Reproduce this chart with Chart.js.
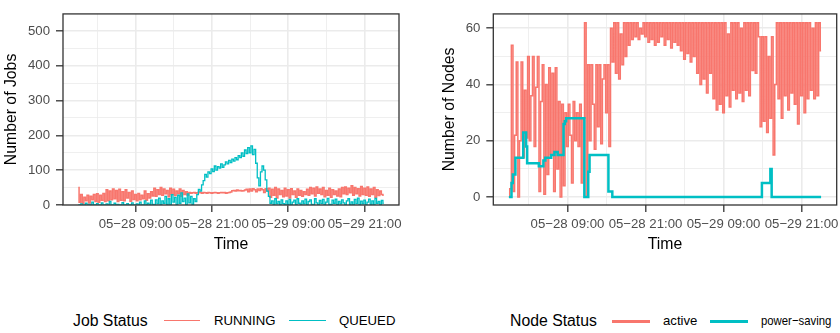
<!DOCTYPE html>
<html>
<head>
<meta charset="utf-8">
<script src="https://cdn.jsdelivr.net/npm/chart.js@4.4.1/dist/chart.umd.min.js"></script>
<style>
  body { margin: 0; background: #fff; width: 840px; height: 333px; position: relative; overflow: hidden;
         font-family: "Liberation Sans", Arial, sans-serif; }
  canvas { position: absolute; top: 0; }
  #jobs { left: 0; }
  #nodes { left: 420px; }
  .lt { position: absolute; top: 311px; line-height: 20px; white-space: nowrap; color: #000; }
  .ttl { font-size: 15.8px; }
  .lab { font-size: 13.2px; }
  .narrow { transform: scaleX(0.86); transform-origin: left center; }
  .key { position: absolute; }
</style>
</head>
<body>
<canvas id="jobs" width="420" height="260"></canvas>
<canvas id="nodes" width="420" height="260"></canvas>

<span class="lt ttl" style="left:73px">Job Status</span>
<div class="key" style="left:164px;top:320px;width:36px;height:1.4px;background:#F8766D"></div>
<span class="lt lab" style="left:214px">RUNNING</span>
<div class="key" style="left:289px;top:320px;width:37px;height:1.4px;background:#00BFC4"></div>
<span class="lt lab" style="left:339px">QUEUED</span>

<span class="lt ttl" style="left:510px">Node Status</span>
<div class="key" style="left:612px;top:319.5px;width:38px;height:3px;background:#F8766D"></div>
<span class="lt lab" style="left:663px">active</span>
<div class="key" style="left:710px;top:319.5px;width:38px;height:3px;background:#00BFC4"></div>
<span class="lt lab narrow" style="left:761px">power−saving</span>

<script>
// readings every 15 minutes, hour 0 = 05-28 00:00
const stepHours = 0.25;

const runningJobs = [
  50, 8, 30, 5, 22, 12, 28, 6, 25, 15, 30, 10,
  32, 8, 28, 14, 33, 10, 44, 12, 40, 15, 46, 18,
  42, 10, 45, 14, 38, 12, 44, 20, 36, 11, 40, 16,
  30, 12, 33, 15, 28, 18, 40, 14, 32, 20, 38, 26,
  48, 25, 44, 30, 50, 28, 46, 32, 42, 24, 48, 30,
  45, 27, 40, 32, 46, 25, 42, 30, 38, 28, 36, 34,
  35, 36, 34, 35, 37, 35, 34, 36, 35, 34, 36, 35,
  34, 35, 36, 35, 34, 35, 36, 35, 36, 34, 35, 36,
  37, 41, 42, 40, 43, 41, 42, 40, 41, 43, 45, 38,
  46, 40, 47, 44, 38, 46, 42, 47, 44, 36, 47, 40,
  48, 22, 45, 28, 50, 20, 46, 30, 42, 24, 48, 26,
  44, 20, 47, 30, 40, 22, 46, 28, 42, 25, 38, 30,
  45, 28, 50, 32, 48, 26, 52, 34, 46, 30, 50, 24,
  42, 28, 48, 22, 44, 30, 40, 26, 46, 24, 50, 32,
  52, 30, 48, 35, 55, 28, 50, 32, 47, 26, 53, 30,
  48, 28, 52, 25, 46, 30, 50, 22, 44, 27, 40, 30,
  28
];

const queuedJobs = [
  0, 0, 3, 0, 0, 5, 0, 2, 0, 8, 0, 0,
  4, 0, 0, 6, 0, 0, 3, 0, 10, 0, 0, 5,
  0, 2, 0, 0, 7, 0, 0, 4, 0, 0, 6, 0,
  0, 3, 0, 8, 0, 0, 12, 0, 5, 0, 14, 2,
  0, 15, 3, 20, 0, 12, 5, 25, 2, 18, 0, 30,
  8, 22, 0, 28, 5, 35, 10, 20, 0, 32, 6, 25,
  2, 18, 10, 30, 45, 40, 58, 70, 88, 80, 95, 90,
  104, 96, 112, 100, 110, 106, 118, 108, 115, 124, 118, 128,
  122, 132, 126, 136, 130, 142, 136, 150, 140, 158, 148, 165,
  150, 170, 145, 160, 120, 78, 55, 95, 112, 100, 72, 40,
  25, 5, 12, 0, 18, 3, 10, 0, 15, 4, 0, 12,
  2, 16, 0, 8, 14, 0, 18, 5, 0, 12, 3, 17,
  0, 10, 15, 2, 0, 18, 6, 0, 13, 4, 16, 0,
  8, 19, 2, 0, 14, 5, 17, 0, 10, 3, 15, 6,
  0, 12, 18, 2, 9, 0, 16, 4, 20, 0, 11, 3,
  14, 0, 8, 17, 2, 12, 0, 19, 5, 10, 0, 13,
  5
];

const activeNodes = [
  0, 3, 54, 2, 22, 48, 0, 20, 48, 14, 38, 21,
  50, 20, 36, 50, 18, 39, 50, 2, 34, 47, 1, 40,
  8, 46, 15, 44, 2, 46, 10, 34, 0, 33, 4, 30,
  18, 33, 22, 5, 34, 20, 30, 18, 33, 5, 28, 62,
  0, 47, 20, 47, 33, 17, 47, 25, 47, 19, 42, 47,
  30, 47, 18, 60, 48, 62, 44, 62, 42, 58, 47, 62,
  50, 62, 54, 62, 56, 62, 57, 62, 56, 60, 58, 62,
  57, 62, 55, 62, 56, 62, 54, 62, 55, 62, 57, 62,
  54, 62, 56, 62, 53, 62, 55, 62, 54, 62, 52, 62,
  49, 62, 51, 62, 48, 62, 50, 62, 44, 62, 40, 62,
  42, 62, 37, 62, 44, 62, 35, 62, 31, 62, 33, 62,
  30, 62, 36, 58, 32, 62, 38, 62, 35, 62, 37, 60,
  34, 62, 38, 62, 36, 62, 45, 62, 44, 62, 57, 25,
  57, 27, 57, 23, 50, 28, 57, 15, 40, 62, 35, 62,
  28, 62, 36, 62, 31, 62, 37, 62, 33, 62, 26, 62,
  36, 62, 30, 62, 35, 62, 38, 60, 35, 62, 36, 62,
  52
];

// power-saving only changes now and then, so it is kept as change points
const psHours = [0, 0.4, 0.6, 1.0, 2.2, 2.65, 2.8, 4.6, 5.3, 5.6, 6.5, 7.0, 7.5, 8.4, 8.6, 8.8,
                 11.6, 12.2, 12.4, 15.3, 15.9, 38.9, 40.2, 40.4, 48];
const psNodes = [0, 5, 8, 14, 23, 18, 12, 11, 13, 14, 15, 16, 15, 26, 27, 28,
                 0, 9, 15, 2, 0, 5, 10, 0, 0];

const xGridHours = [3, 9, 15, 21, 27, 33, 39, 45];
const xMajorHours = [9, 21, 33, 45];
const xTickLabels = ['05−28 09:00', '05−28 21:00', '05−29 09:00', '05−29 21:00'];

const jobGrid = [0, 50, 100, 150, 200, 250, 300, 350, 400, 450, 500];
const nodeGrid = [0, 10, 20, 30, 40, 50, 60];

const RED = '#F8766D', TEAL = '#00BFC4';

const toPoints = vals => vals.map((v, i) => ({ x: i * stepHours, y: v }));

const panelBorder = {
  id: 'panelBorder',
  afterDatasetsDraw(chart) {
    const a = chart.chartArea, ctx = chart.ctx;
    ctx.save();
    ctx.strokeStyle = '#333333';
    ctx.lineWidth = 1.3;
    ctx.strokeRect(a.left, a.top, a.right - a.left, a.bottom - a.top);
    ctx.restore();
  }
};

function makePanel(id, datasets, yOpts) {
  const isMajorX = c => c.tick && xMajorHours.includes(c.tick.value);
  const isMajorY = c => c.tick && yOpts.major.includes(c.tick.value);
  return new Chart(id, {
    type: 'line',
    data: { datasets: datasets },
    plugins: [panelBorder],
    options: {
      responsive: false,
      animation: false,
      devicePixelRatio: 1,
      layout: { padding: { top: 4, right: yOpts.padRight, bottom: 0, left: 0 } },
      plugins: { legend: { display: false }, tooltip: { enabled: false } },
      elements: { point: { radius: 0 } },
      scales: {
        x: {
          type: 'linear', min: -2.4, max: 50.4,
          afterBuildTicks: s => { s.ticks = xGridHours.map(v => ({ value: v })); },
          afterFit: s => { s.height = 55; s.paddingLeft = 0; s.paddingRight = 0; },
          border: { display: false },
          grid: {
            color: '#EBEBEB',
            lineWidth: c => isMajorX(c) ? 1.6 : 0.8,
            tickColor: c => isMajorX(c) ? '#333333' : 'rgba(0,0,0,0)',
            tickLength: 7, tickWidth: 1.3
          },
          ticks: {
            autoSkip: false, maxRotation: 0, minRotation: 0, padding: 4,
            color: '#4D4D4D', font: { size: 13.2, family: '"Liberation Sans", Arial, sans-serif' },
            callback: v => { const k = xMajorHours.indexOf(v); return k < 0 ? '' : xTickLabels[k]; }
          },
          title: { display: true, text: 'Time', color: '#000',
                   font: { size: 15.8, family: '"Liberation Sans", Arial, sans-serif' },
                   padding: { top: 0, bottom: 6 } }
        },
        y: {
          min: yOpts.min, max: yOpts.max,
          afterBuildTicks: s => { s.ticks = yOpts.grid.map(v => ({ value: v })); },
          afterFit: s => { s.width = yOpts.width; },
          border: { display: false },
          grid: {
            color: '#EBEBEB',
            lineWidth: c => isMajorY(c) ? 1.6 : 0.8,
            tickColor: c => isMajorY(c) ? '#333333' : 'rgba(0,0,0,0)',
            tickLength: 7, tickWidth: 1.3
          },
          ticks: {
            padding: 6, color: '#4D4D4D',
            font: { size: 13.2, family: '"Liberation Sans", Arial, sans-serif' },
            callback: v => yOpts.major.includes(v) ? String(v) : ''
          },
          title: { display: true, text: yOpts.title, color: '#000',
                   font: { size: 15.8, family: '"Liberation Sans", Arial, sans-serif' },
                   padding: { top: yOpts.titlePad, bottom: 0 } }
        }
      }
    }
  });
}

// the readings are so dense that each one reads as a vertical stroke, so draw them stepped
makePanel('jobs', [
  { label: 'RUNNING', data: toPoints(runningJobs), borderColor: RED, borderWidth: 1.5, stepped: 'middle', order: 2 },
  { label: 'QUEUED', data: toPoints(queuedJobs), borderColor: TEAL, borderWidth: 1.3, stepped: 'middle', order: 1 }
], { min: 0, max: 549, grid: jobGrid, major: [0, 100, 200, 300, 400, 500],
     width: 63, padRight: 21, title: 'Number of Jobs', titlePad: 2.5 });

makePanel('nodes', [
  { label: 'active', data: toPoints(activeNodes), borderColor: RED, borderWidth: 1.5, stepped: 'middle', order: 2 },
  { label: 'power-saving', data: psHours.map((h, i) => ({ x: h, y: psNodes[i] })),
    borderColor: TEAL, borderWidth: 2.5, stepped: true, order: 1 }
], { min: -2.8, max: 65.1, grid: nodeGrid, major: [0, 20, 40, 60],
     width: 73.3, padRight: 3.3, title: 'Number of Nodes', titlePad: 20.5 });
</script>
</body>
</html>
